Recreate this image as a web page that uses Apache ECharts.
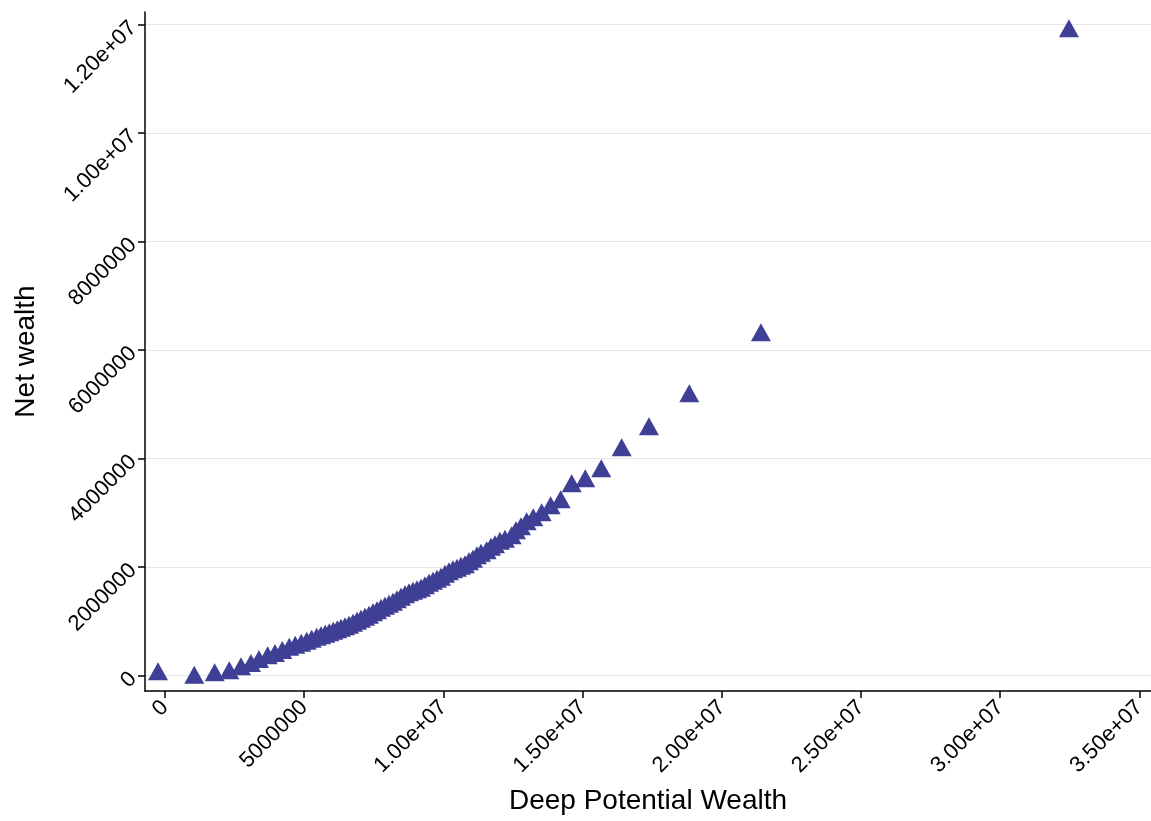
<!DOCTYPE html>
<html>
<head>
<meta charset="utf-8">
<title>Net wealth vs Deep Potential Wealth</title>
<script src="https://cdn.jsdelivr.net/npm/echarts@6/dist/echarts.min.js"></script>
<style>
	html, body { margin: 0; padding: 0; background: #fff; }
	#chart { width: 1151px; height: 821px; }
</style>
</head>
<body>
<div id="chart"></div>
<script>
// values
var deepPotential = [
	-251000, 1052000, 1785000, 2310000, 2730000, 3089000, 3376000, 3689000, 3951000, 4213000,
	4465000, 4680000, 4896000, 5090000, 5269000, 5449000, 5604000, 5758000, 5902000, 6045000,
	6189000, 6322000, 6466000, 6609000, 6753000, 6897000, 7040000, 7184000, 7328000, 7471000,
	7615000, 7759000, 7902000, 8046000, 8190000, 8333000, 8477000, 8621000, 8764000, 8908000,
	9052000, 9196000, 9339000, 9483000, 9627000, 9770000, 9914000, 10058000, 10201000, 10345000,
	10489000, 10632000, 10776000, 10920000, 11063000, 11207000, 11351000, 11555000, 11710000, 11854000,
	12033000, 12213000, 12453000, 12608000, 12788000, 12992000, 13229000, 13531000, 13854000, 14213000,
	14609000, 15097000, 15672000, 16405000, 17385000, 18833000, 21408000, 32472000
];
var netWealth = [
	79000, 17000, 61000, 98000, 171000, 232000, 306000, 374000, 417000, 472000,
	531000, 568000, 605000, 641000, 678000, 715000, 743000, 771000, 798000, 826000,
	853000, 881000, 909000, 936000, 973000, 1010000, 1047000, 1084000, 1121000, 1167000,
	1204000, 1250000, 1287000, 1324000, 1360000, 1406000, 1453000, 1499000, 1535000, 1563000,
	1591000, 1618000, 1665000, 1711000, 1747000, 1784000, 1821000, 1876000, 1923000, 1959000,
	1987000, 2024000, 2052000, 2107000, 2153000, 2217000, 2264000, 2310000, 2374000, 2420000,
	2485000, 2522000, 2586000, 2678000, 2752000, 2844000, 2918000, 3010000, 3139000, 3250000,
	3545000, 3637000, 3821000, 4208000, 4595000, 5204000, 6328000, 11932000
];

var xTicks = [0, 5000000, 10000000, 15000000, 20000000, 25000000, 30000000, 35000000];
var xTickLabels = ["0", "5000000", "1.00e+07", "1.50e+07", "2.00e+07", "2.50e+07", "3.00e+07", "3.50e+07"];
var yTicks = [0, 2000000, 4000000, 6000000, 8000000, 10000000, 12000000];
var yTickLabels = ["0", "2000000", "4000000", "6000000", "8000000", "1.00e+07", "1.20e+07"];

var points = deepPotential.map(function(x, i) {
	return [x, netWealth[i]];
});

function labelFor(ticks, labels) {
	return function(v) {
		var i = ticks.indexOf(v);
		return i < 0 ? "" : labels[i];
	};
}

var font = "Liberation Sans, Arial, sans-serif";
var axisLine = { show: true, onZero: false, lineStyle: { color: "#000", width: 1.5 } };
var axisTick = { show: true, length: 7, lineStyle: { color: "#000", width: 1.5 } };

var chart = echarts.init(document.getElementById("chart"), null, { renderer: "canvas" });
chart.setOption({
	backgroundColor: "#fff",
	animation: false,
	grid: {
		left: 145,
		right: 0,
		top: 12,
		bottom: 130,
		containLabel: false,
		outerBoundsMode: "none"
	},
	xAxis: {
		type: "value",
		min: -718000,
		max: 35420000,
		name: "Deep Potential Wealth",
		nameLocation: "middle",
		nameGap: 96,
		nameTextStyle: { fontFamily: font, fontSize: 28, color: "#000" },
		axisLine: axisLine,
		axisTick: Object.assign({ customValues: xTicks }, axisTick),
		axisLabel: {
			customValues: xTicks,
			rotate: 45,
			margin: 13,
			fontFamily: font,
			fontSize: 22,
			color: "#000",
			formatter: labelFor(xTicks, xTickLabels)
		},
		splitLine: { show: false }
	},
	yAxis: {
		type: "value",
		min: -284000,
		max: 12232000,
		name: "Net wealth",
		nameLocation: "middle",
		nameGap: 105,
		nameTextStyle: { fontFamily: font, fontSize: 28, color: "#000" },
		axisLine: axisLine,
		axisTick: Object.assign({ customValues: yTicks }, axisTick),
		axisLabel: {
			customValues: yTicks,
			rotate: 45,
			margin: 12,
			fontFamily: font,
			fontSize: 22,
			color: "#000",
			formatter: labelFor(yTicks, yTickLabels)
		},
		splitLine: { show: true, lineStyle: { color: "#e6e6e6", width: 1.2 } }
	},
	series: [{
		type: "scatter",
		data: points,
		symbol: "triangle",
		symbolSize: [20, 18],
		itemStyle: { color: "#3f3f95", opacity: 1 }
	}]
});
</script>
</body>
</html>
